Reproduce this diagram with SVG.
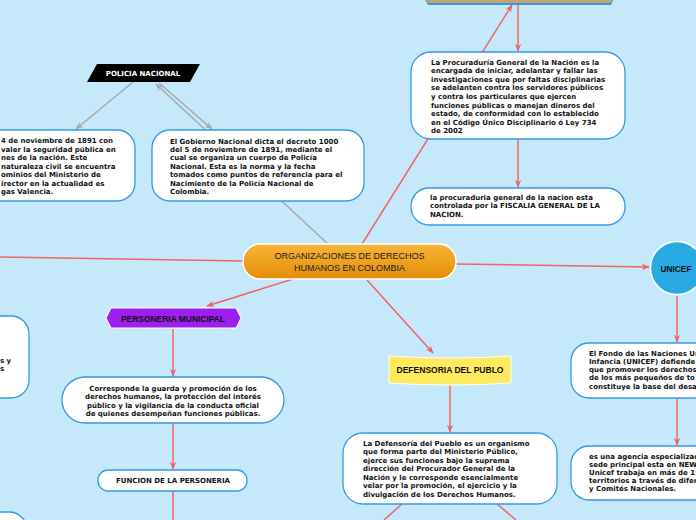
<svg xmlns="http://www.w3.org/2000/svg" width="696" height="520" viewBox="0 0 696 520">
<defs>
<style>
.bg{fill:#C5E9FB}
.box{fill:#fff;stroke:#3399E6;stroke-width:1.3}
.t{font-family:"DejaVu Sans",Verdana,sans-serif;font-weight:bold;font-size:7px;fill:#111}
.tc{font-family:"DejaVu Sans",Verdana,sans-serif;font-weight:bold;font-size:7px;fill:#111;text-anchor:middle}
.h{font-family:"Liberation Sans",Arial,sans-serif;font-weight:bold;font-size:9px;fill:#111;text-anchor:middle}
.r{stroke:#F0636A;stroke-width:1.5;fill:none}
.g{stroke:#A8A8A8;stroke-width:1.5;fill:none}
</style>
<marker id="ar" viewBox="0 0 10 10" refX="9" refY="5" markerWidth="8" markerHeight="8" markerUnits="userSpaceOnUse" orient="auto"><path d="M0,1 L10,5 L0,9 L3,5 z" fill="#F0636A"/></marker>
<marker id="ag" viewBox="0 0 10 10" refX="9" refY="5" markerWidth="8" markerHeight="8" markerUnits="userSpaceOnUse" orient="auto"><path d="M0,1 L10,5 L0,9 L3,5 z" fill="#A8A8A8"/></marker>
<linearGradient id="og" x1="0" y1="0" x2="0" y2="1"><stop offset="0" stop-color="#F8B53A"/><stop offset="1" stop-color="#E38D06"/></linearGradient>
</defs>
<rect class="bg" x="0" y="0" width="696" height="520"/>

<g id="connectors">
<line class="r" x1="0" y1="257" x2="243" y2="261"/>
<line class="r" x1="362" y1="244" x2="512" y2="5" marker-end="url(#ar)"/>
<line class="r" x1="518" y1="4" x2="518" y2="51" marker-end="url(#ar)"/>
<line class="r" x1="518" y1="140" x2="518" y2="187" marker-end="url(#ar)"/>
<line class="r" x1="456" y1="264" x2="649" y2="267" marker-end="url(#ar)"/>
<line class="r" x1="677" y1="296" x2="677" y2="342" marker-end="url(#ar)"/>
<line class="r" x1="677" y1="398" x2="677" y2="445" marker-end="url(#ar)"/>
<line class="r" x1="293" y1="279" x2="207" y2="306" marker-end="url(#ar)"/>
<line class="r" x1="173" y1="329" x2="173" y2="376" marker-end="url(#ar)"/>
<line class="r" x1="173" y1="423" x2="173" y2="469" marker-end="url(#ar)"/>
<line class="r" x1="173" y1="491" x2="173" y2="520"/>
<line class="r" x1="367" y1="280" x2="433" y2="353" marker-end="url(#ar)"/>
<line class="r" x1="450" y1="384" x2="450" y2="432" marker-end="url(#ar)"/>
<line class="r" x1="402" y1="504" x2="384" y2="520"/>
<line class="r" x1="497" y1="504" x2="516" y2="520"/>
<line class="g" x1="328" y1="244" x2="156" y2="84" marker-end="url(#ag)"/>
<line class="g" x1="159" y1="83" x2="212" y2="129" marker-end="url(#ag)"/>
<line class="g" x1="133" y1="82" x2="76" y2="129" marker-end="url(#ag)"/>
</g>

<g id="node-top">
<polygon points="420,-10 618,-10 611,5 428,5" fill="#3399E6"/>
<polygon points="420,-10 618,-10 611,3 428,3" fill="#C6A26E"/>
</g>

<g id="node-procuraduria">
<rect class="box" x="411" y="52" width="214" height="87" rx="20"/>
<text class="t" x="431" y="64.5">La Procuraduría General de la Nación es la</text>
<text class="t" x="431" y="73.1">encargada de iniciar, adelantar y fallar las</text>
<text class="t" x="431" y="81.7">investigaciones que por faltas disciplinarias</text>
<text class="t" x="431" y="90.3">se adelanten contra los servidores públicos</text>
<text class="t" x="431" y="98.9">y contra los particulares que ejercen</text>
<text class="t" x="431" y="107.5">funciones públicas o manejan dineros del</text>
<text class="t" x="431" y="116.1">estado, de conformidad con lo establecido</text>
<text class="t" x="431" y="124.7">en el Código Único Disciplinario ó Ley 734</text>
<text class="t" x="431" y="133.3">de 2002</text>
</g>

<g id="node-fiscalia">
<rect class="box" x="411" y="188" width="214" height="37" rx="18"/>
<text class="t" x="430" y="199.5">la procuraduria general de la nacion esta</text>
<text class="t" x="430" y="208">controlada por la FISCALIA GENERAL DE LA</text>
<text class="t" x="430" y="216.5">NACION.</text>
</g>

<g id="node-policia">
<polygon points="97,64 200,64 190,82 87,82" fill="#000"/>
<text x="143" y="76" style="font-family:'DejaVu Sans',Verdana,sans-serif;font-weight:bold;font-size:7px;fill:#fff;text-anchor:middle">POLICIA NACIONAL</text>
</g>

<g id="node-policia-detalle">
<rect class="box" x="-100" y="130" width="235" height="71" rx="18"/>
<text class="t" x="1" y="143">4 de noviembre de 1891 con</text>
<text class="t" x="1" y="151.5">valer la seguridad pública en</text>
<text class="t" x="1" y="160">nes de la nación. Este</text>
<text class="t" x="1" y="168.5">naturaleza civil se encuentra</text>
<text class="t" x="1" y="177">ominios del Ministerio de</text>
<text class="t" x="1" y="185.5">irector en la actualidad es</text>
<text class="t" x="1" y="194">gas Valencia.</text>
</g>

<g id="node-gobierno">
<rect class="box" x="152" y="130" width="212" height="71" rx="18"/>
<text class="t" x="170" y="143.5">El Gobierno Nacional dicta el decreto 1000</text>
<text class="t" x="170" y="151.9">del 5 de noviembre de 1891, mediante el</text>
<text class="t" x="170" y="160.3">cual se organiza un cuerpo de Policía</text>
<text class="t" x="170" y="168.7">Nacional. Esta es la norma y la fecha</text>
<text class="t" x="170" y="177.1">tomados como puntos de referencia para el</text>
<text class="t" x="170" y="185.5">Nacimiento de la Policía Nacional de</text>
<text class="t" x="170" y="193.9">Colombia.</text>
</g>

<g id="node-center">
<rect x="243" y="244" width="213" height="35" rx="17" fill="url(#og)" stroke="#fff" stroke-width="1.5"/>
<text x="349.5" y="258.5" style="font-family:'Liberation Sans',Arial,sans-serif;font-size:9px;fill:#222;text-anchor:middle">ORGANIZACIONES DE DERECHOS</text>
<text x="349.5" y="270.5" style="font-family:'Liberation Sans',Arial,sans-serif;font-size:9px;fill:#222;text-anchor:middle">HUMANOS EN COLOMBIA</text>
</g>

<g id="node-unicef">
<circle cx="677" cy="268" r="26.5" fill="#28A9E2" stroke="#fff" stroke-width="1.5"/>
<text class="h" x="676" y="271.5" textLength="31" lengthAdjust="spacingAndGlyphs">UNICEF</text>
</g>

<g id="node-unicef-1">
<rect class="box" x="571" y="343" width="200" height="55" rx="18"/>
<text class="t" x="589" y="355.5">El Fondo de las Naciones Un</text>
<text class="t" x="589" y="363.8">Infancia (UNICEF) defiende</text>
<text class="t" x="589" y="372.1">que promover los derechos</text>
<text class="t" x="589" y="380.4">de los más pequeños de to</text>
<text class="t" x="589" y="388.7">constituye la base del desa</text>
</g>

<g id="node-unicef-2">
<rect class="box" x="571" y="446" width="200" height="54" rx="18"/>
<text class="t" x="589" y="458.5">es una agencia especializad</text>
<text class="t" x="589" y="466.6">sede principal esta en NEW</text>
<text class="t" x="589" y="474.7">Unicef trabaja en más de 1</text>
<text class="t" x="589" y="482.8">territorios a través de difer</text>
<text class="t" x="589" y="490.9">y Comités Nacionales.</text>
</g>

<g id="node-personeria">
<polygon points="106,318 111,308 236,308 241,318 236,328 111,328" fill="#9D1FF0" stroke="#fff" stroke-width="1"/>
<text class="h" x="173" y="321.5" textLength="104" lengthAdjust="spacingAndGlyphs">PERSONERIA MUNICIPAL</text>
</g>

<g id="node-left-2">
<rect class="box" x="-100" y="316" width="129" height="82" rx="18"/>
<text class="t" x="0" y="363">s y</text>
<text class="t" x="0" y="371">s</text>
</g>

<g id="node-corresponde">
<rect class="box" x="62" y="377" width="222" height="46" rx="23"/>
<text class="tc" x="173" y="390.5">Corresponde la guarda y promoción de los</text>
<text class="tc" x="173" y="399">derechos humanos, la protección del interés</text>
<text class="tc" x="173" y="407.5">público y la vigilancia de la conducta oficial</text>
<text class="tc" x="173" y="416">de quienes desempeñan funciones públicas.</text>
</g>

<g id="node-funcion">
<rect class="box" x="98" y="470" width="149" height="21" rx="10"/>
<text class="tc" x="173" y="483">FUNCION DE LA PERSONERIA</text>
</g>

<g id="node-left-3">
<rect class="box" x="-100" y="512" width="127" height="50" rx="18"/>
</g>

<g id="node-defensoria">
<path d="M389,356 Q450,360 511,356 L511,383 Q450,387 389,383 Z" fill="#FFE95C" stroke="#fff" stroke-width="1"/>
<text class="h" x="450" y="372.5" textLength="107" lengthAdjust="spacingAndGlyphs">DEFENSORIA DEL PUBLO</text>
</g>

<g id="node-defensoria-detalle">
<rect class="box" x="343" y="433" width="214" height="71" rx="20"/>
<text class="t" x="363" y="445.5"> La Defensoría del Pueblo es un organismo</text>
<text class="t" x="363" y="454">que forma parte del Ministerio Público,</text>
<text class="t" x="363" y="462.5">ejerce sus funciones bajo la suprema</text>
<text class="t" x="363" y="471">dirección del Procurador General de la</text>
<text class="t" x="363" y="479.5">Nación y le corresponde esencialmente</text>
<text class="t" x="363" y="488">velar por la promoción, el ejercicio y la</text>
<text class="t" x="363" y="496.5">divulgación de los Derechos Humanos.</text>
</g>
</svg>
